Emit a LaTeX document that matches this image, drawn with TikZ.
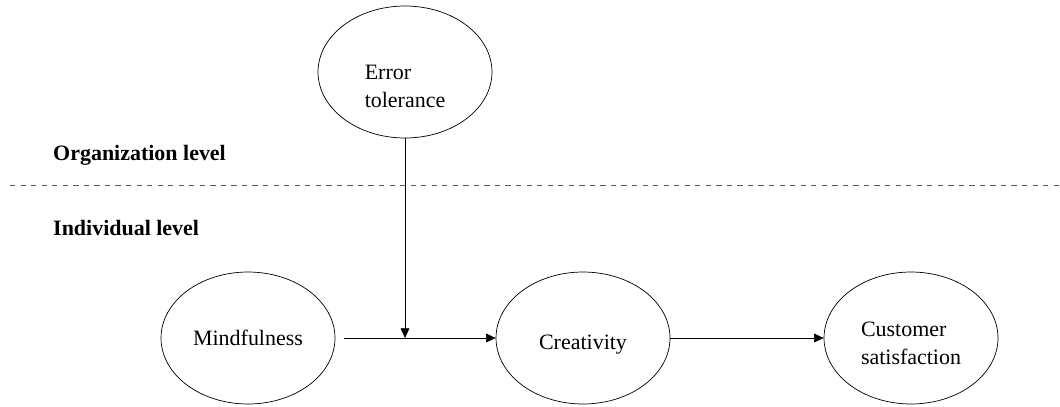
\documentclass[tikz,border=0pt]{standalone}
\usepackage{fontspec}
\setmainfont{Liberation Serif}
\usetikzlibrary{shapes.geometric,arrows.meta}

\begin{document}
\begin{tikzpicture}[x=0.02cm,y=-0.02cm,
    construct/.style={draw,ellipse,thin,minimum width=3.48cm,minimum height=2.64cm,
        align=left,inner sep=0pt,font=\fontsize{12.5}{16}\selectfont},
    link/.style={-{Triangle[length=5.5pt,width=5pt]}},
    levellabel/.style={anchor=west,font=\fontsize{12.5}{15}\selectfont\bfseries}]
            \useasboundingbox (0,0) rectangle (1060,406);
            \node [construct] (err) at (405,72) {\\[9pt]Error\\tolerance};
            \node [construct] (mind) at (248,338) {Mindfulness};
            \node [construct] (crea) at (583,338) {\\[0pt]Creativity};
            \node [construct] (sat) at (911,338) {\\[-2pt]Customer\\satisfaction};
            \draw [dashed,gray!70!black] (10,185) -- (1060,185);
            \node [levellabel] (org) at (47,155) {Organization level};
            \node [levellabel] (ind) at (47,228) {Individual level};
            \draw [link] ([xshift=5pt]mind.east) -- (crea.west);
            \draw [link] (err.south) -- (err.south |- mind.east);
            \draw [link] (crea.east) -- (sat.west);
        \end{tikzpicture}
\end{document}
